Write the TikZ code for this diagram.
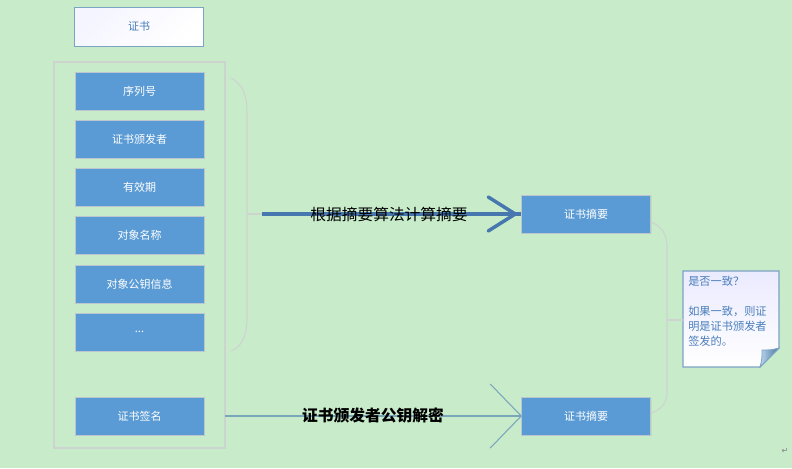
\documentclass[tikz,border=0pt]{standalone}
\usepackage{fontspec}
\setmainfont{Noto Sans CJK SC}
\newfontfamily\symfont{DejaVu Sans}
\usetikzlibrary{calc,shadows}

\definecolor{bggreen}{HTML}{C8EBCA}
\definecolor{boxblue}{HTML}{5B9BD5}
\definecolor{boxedge}{HTML}{BCC6CE}
\definecolor{titleedge}{HTML}{7BA3C4}
\definecolor{titletext}{HTML}{4A7EBB}
\definecolor{arrowblue}{HTML}{4677AE}
\definecolor{thinblue}{HTML}{7AA6BC}
\definecolor{bracegray}{HTML}{CDD3CF}

\tikzset{
  field/.style={draw=boxedge, fill=boxblue, text=white, minimum width=96.75pt, minimum height=28.5pt,
    inner sep=0pt, font=\fontsize{8.25}{10}\selectfont,
    drop shadow={opacity=0.12, shadow xshift=0.8pt, shadow yshift=-0.8pt}},
  arrowtext/.style={font=\fontsize{11.8}{13}\selectfont, text=black, inner sep=0pt}
}

\begin{document}
\begin{tikzpicture}[x=0.75pt, y=-0.75pt]
            \fill[bggreen] (0,0) rectangle (792,468);
            \useasboundingbox (0,0) rectangle (792,468);
            % certificate and its fields
            \node[draw=titleedge, left color=white!90!blue!40, right color=white, shading angle=45, text=titletext,
                  minimum width=96.75pt, minimum height=29.25pt, inner sep=0pt,
                  font=\fontsize{8.25}{10}\selectfont] (cert) at (139,26.5) {证书};
            \draw[bracegray, line width=0.8pt] (54,62) rectangle (225,448);
            \node[field] (serial) at (139.5,91) {序列号};
            \node[field] (issuer) at (139.5,139) {证书颁发者};
            \node[field] (valid) at (139.5,187) {有效期};
            \node[field] (subject) at (139.5,235) {对象名称};
            \node[field] (pubkey) at (139.5,284) {对象公钥信息};
            \node[field] (more) at (139.5,332) {...};
            \node[field] (sign) at (139.5,416) {证书签名};
            % digests
            \node[field] (digestA) at (586,214) {证书摘要};
            \node[field] (digestB) at (586,416) {证书摘要};
            % note with folded corner
            \path[draw=titleedge, top color=white!92!blue, bottom color=white, line width=0.8pt]
                  (683,271) -- (779,271) -- (779,348) -- (760,367) -- (683,367) -- cycle;
            \path[draw=titleedge, left color=white!60!boxblue, right color=boxblue!75!black, line width=0.6pt]
                  (779,348) -- (760,367) .. controls (762,359) .. (762,350) .. controls (771,350) .. cycle;
            \node[anchor=north west, text width=64pt, inner sep=0pt,
                  align=left, text=titletext, font=\fontsize{8.4}{11.25}\selectfont] (note) at (688,276)
                  {是否一致？\\[11pt]如果一致，则证\\明是证书颁发者\\签发的。};
            % braces
            \coordinate (bl) at (262,214);
            \coordinate (br) at (683,320);
            \draw[bracegray, line width=0.8pt] (231,78) .. controls (243,84) and (247,96) .. (247,112)
                  -- (247,318) .. controls (247,334) and (243,346) .. (231,351);
            \draw[bracegray, line width=0.8pt] (247,214) -- (bl);
            \draw[bracegray, line width=0.8pt] (651,222) .. controls (661,226) and (667,234) .. (667,246)
                  -- (667,392) .. controls (667,403) and (661,410) .. (651,413);
            \draw[bracegray, line width=0.8pt] (667,320) -- (br);
            % arrows
            \draw[arrowblue, line width=2.6pt] (bl) -- (digestA.west);
            \draw[arrowblue, line width=2.6pt, line cap=round] ($(digestA.west)+(-33,-17)$) -- ($(digestA.west)+(-6,0)$)
                  -- ($(digestA.west)+(-33,17)$);
            \node[arrowtext] (hashlabel) at (389,214) {根据摘要算法计算摘要};
            \draw[thinblue, line width=1.6pt] (sign.east -| 225,0) -- (digestB.west);
            \draw[thinblue, line width=0.8pt] ($(digestB.west)+(-31,-32)$) -- (digestB.west) -- ($(digestB.west)+(-31,32)$);
            \node[arrowtext, font=\fontsize{11.8}{13}\selectfont\bfseries] (decryptlabel) at (373,415) {证书颁发者公钥解密};
            \node[text=gray, font=\symfont\fontsize{6}{6}\selectfont, inner sep=0pt] (mark) at (785,451) {↵};
        \end{tikzpicture}
\end{document}
